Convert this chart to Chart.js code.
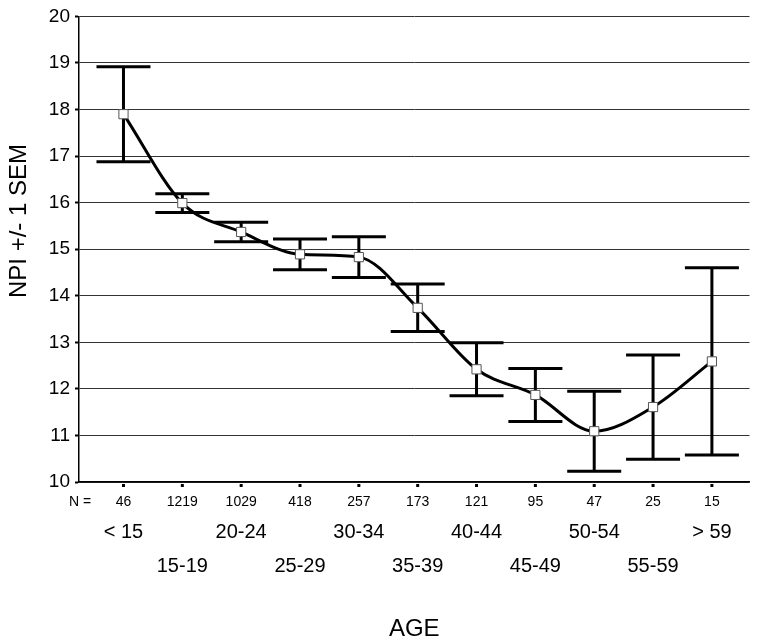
<!DOCTYPE html>
<html>
<head>
<meta charset="utf-8">
<script src="https://cdn.jsdelivr.net/npm/chart.js@4.4.0/dist/chart.umd.min.js"></script>
<style>
  html, body { margin: 0; padding: 0; background: #fff; }
</style>
</head>
<body>
<canvas id="npiChart" width="757" height="642"></canvas>
<script>
const ageGroups = ['< 15', '15-19', '20-24', '25-29', '30-34', '35-39', '40-44', '45-49', '50-54', '55-59', '> 59'];
const counts = ['46', '1219', '1029', '418', '257', '173', '121', '95', '47', '25', '15'];
const npiMean = [17.90, 15.99, 15.37, 14.89, 14.83, 13.74, 12.42, 11.87, 11.09, 11.61, 12.59];
const npiSem = [1.02, 0.20, 0.21, 0.33, 0.44, 0.51, 0.57, 0.57, 0.86, 1.12, 2.01];
const yMin = 10, yMax = 20;

const FONT = '"Liberation Sans", Arial, sans-serif';

// error bars drawn under the line
const errorBars = {
  id: 'errorBars',
  beforeDatasetsDraw(chart) {
    const { ctx, scales: { x, y } } = chart;
    ctx.save();
    ctx.strokeStyle = '#000';
    ctx.lineWidth = 3;
    ctx.lineCap = 'butt';
    npiMean.forEach((m, i) => {
      const px = x.getPixelForValue(i);
      const top = y.getPixelForValue(m + npiSem[i]);
      const bot = y.getPixelForValue(m - npiSem[i]);
      ctx.beginPath();
      ctx.moveTo(px, top); ctx.lineTo(px, bot);
      ctx.moveTo(px - 27, top); ctx.lineTo(px + 27, top);
      ctx.moveTo(px - 27, bot); ctx.lineTo(px + 27, bot);
      ctx.stroke();
    });
    ctx.restore();
  }
};

// N row, staggered age labels, axis titles
const axisText = {
  id: 'axisText',
  afterDraw(chart) {
    const { ctx, scales: { x }, chartArea } = chart;
    const b = chartArea.bottom;
    ctx.save();
    ctx.fillStyle = '#000';
    ctx.textAlign = 'center';
    ctx.textBaseline = 'middle';
    ageGroups.forEach((lab, i) => {
      const px = x.getPixelForValue(i);
      ctx.fillRect(px - 1.5, b + 2, 3, 3);
      ctx.font = '14px ' + FONT;
      ctx.fillText(counts[i], px, b + 20);
      ctx.font = '20px ' + FONT;
      ctx.fillText(lab, px, i % 2 === 0 ? b + 50 : b + 84);
    });
    ctx.font = '14px ' + FONT;
    ctx.fillText('N =', 80, b + 20);
    ctx.font = '24px ' + FONT;
    ctx.fillText('AGE', (chartArea.left + chartArea.right) / 2, b + 147);
    ctx.translate(19, 221);
    ctx.rotate(-Math.PI / 2);
    ctx.fillText('NPI +/- 1 SEM', 0, 0);
    ctx.restore();
  }
};

const ctx = document.getElementById('npiChart').getContext('2d');
new Chart(ctx, {
  type: 'line',
  data: {
    datasets: [{
      data: npiMean.map((v, i) => ({ x: i, y: v })),
      borderColor: '#000',
      borderWidth: 3,
      cubicInterpolationMode: 'monotone',
      pointStyle: 'rect',
      pointRadius: 6.5,
      pointBackgroundColor: '#fff',
      pointBorderColor: '#555',
      pointBorderWidth: 1
    }]
  },
  options: {
    responsive: false,
    animation: false,
    layout: { padding: { top: 13, left: 0, right: 0, bottom: 0 } },
    plugins: {
      legend: { display: false },
      tooltip: { enabled: false }
    },
    scales: {
      x: {
        type: 'linear',
        min: -0.756,
        max: 10.639,
        ticks: { display: false },
        grid: { drawOnChartArea: false, drawTicks: false },
        border: { display: true, color: '#000', width: 1.5 },
        afterFit(scale) { scale.height = 160; }
      },
      y: {
        min: yMin,
        max: yMax,
        ticks: {
          stepSize: 1,
          color: '#000',
          padding: 5,
          font: { family: FONT, size: 19 }
        },
        grid: {
          color: '#333',
          lineWidth: 1,
          tickLength: 4,
          tickColor: '#000',
          tickWidth: 2
        },
        border: { display: true, color: '#000', width: 1.5 },
        afterFit(scale) { scale.width = 79; }
      }
    }
  },
  plugins: [errorBars, axisText]
});
</script>
</body>
</html>
